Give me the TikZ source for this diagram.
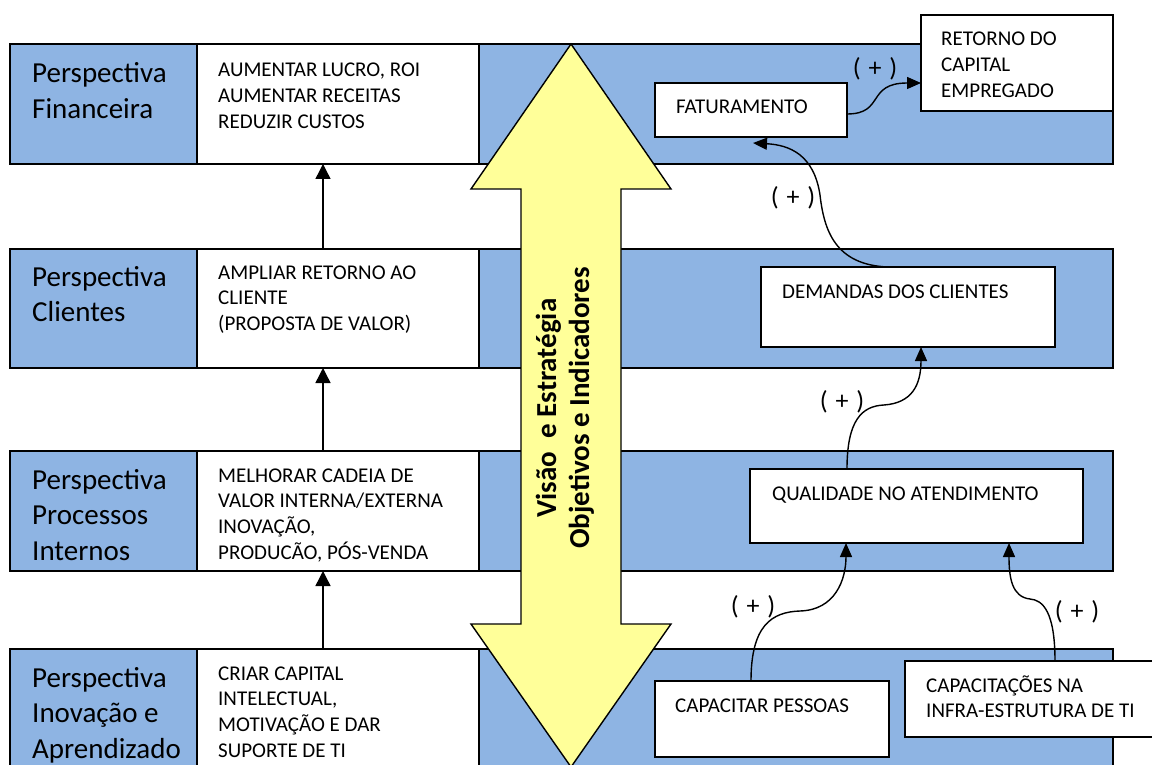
\documentclass[tikz,border=0pt]{standalone}
\usepackage{fontspec}
\setmainfont{Carlito}
\usetikzlibrary{arrows.meta}
\definecolor{bandblue}{HTML}{8EB4E3}
\definecolor{yel}{HTML}{FFFF99}
\newcommand\mkbox[6]{\node[#6, minimum width={(#3-#1)*1pt}, minimum height={(#4-#2)*1pt}] (#5) at ({(#1+#3)/2},{(#2+#4)/2}) {};}
\newcommand\mktext[5]{\node[#4, anchor=base west, inner sep=0pt] (#3) at (#1,#2) {\begin{tabular}[t]{@{}l@{}}#5\end{tabular}};}
\newcommand\plustext{(\hspace{0.3em}+\hspace{0.3em})}
\begin{document}
\begin{tikzpicture}[x=1pt,y=-1pt,
  bandbox/.style={draw=black, line width=1.8pt, fill=bandblue, inner sep=0pt, outer sep=0pt},
  whitebox/.style={draw=black, line width=1.8pt, fill=white, inner sep=0pt, outer sep=0pt},
  labeltext/.style={font=\fontsize{29}{35.5}\selectfont},
  boxtext/.style={font=\fontsize{21}{25.8}\selectfont},
  plus/.style={font=\fontsize{26}{30}\selectfont, inner sep=0pt},
  uparrow/.style={line width=1.4pt, -{Triangle[length=15pt,width=15pt]}},
  curvearrow/.style={line width=1.4pt, -{Triangle[length=14pt,width=12pt]}},
  yarrow/.style={draw=black, line width=1.4pt, fill=yel, line join=miter}
]
\useasboundingbox (0,0) rectangle (1152,765);
\clip (0,0) rectangle (1152,765);
% bands
\mkbox{10}{44}{1113}{164}{b1}{bandbox}
\mkbox{10}{249}{1113}{368}{b2}{bandbox}
\mkbox{10}{451}{1113}{571}{b3}{bandbox}
\mkbox{10}{649}{1113}{800}{b4}{bandbox}
% white boxes
\mkbox{197}{44}{479}{164}{w1}{whitebox}
\mkbox{197}{249}{479}{368}{w2}{whitebox}
\mkbox{197}{451}{479}{571}{w3}{whitebox}
\mkbox{197}{649}{479}{800}{w4}{whitebox}
% perspective labels
\mktext{32}{83}{l1}{labeltext}{Perspectiva\\Financeira}
\mktext{32}{286}{l2}{labeltext}{Perspectiva\\Clientes}
\mktext{32}{489}{l3}{labeltext}{Perspectiva\\Processos\\Internos}
\mktext{32}{687}{l4}{labeltext}{Perspectiva\\Inovação e\\Aprendizado}
% white box texts
\mktext{218}{77}{t1}{boxtext}{AUMENTAR LUCRO, ROI\\AUMENTAR RECEITAS\\REDUZIR CUSTOS}
\mktext{218}{279}{t2}{boxtext}{AMPLIAR RETORNO AO\\CLIENTE\\(PROPOSTA DE VALOR)}
\mktext{218}{482}{t3}{boxtext}{MELHORAR CADEIA DE\\VALOR INTERNA/EXTERNA\\INOVAÇÃO,\\PRODUCÃO, PÓS-VENDA}
\mktext{218}{680}{t4}{boxtext}{CRIAR CAPITAL\\INTELECTUAL,\\MOTIVAÇÃO E DAR\\SUPORTE DE TI}
% vertical arrows
\draw[uparrow] ([xshift=126pt]w2.north west) -- ([xshift=126pt]w1.south west);
\draw[uparrow] ([xshift=126pt]w3.north west) -- ([xshift=126pt]w2.south west);
\draw[uparrow] ([xshift=126pt]w4.north west) -- ([xshift=126pt]w3.south west);
% yellow double arrow
\draw[yarrow] (571,44) -- (671,189) -- (621,189) -- (621,624) -- (671,624) -- (571,767)
  -- (471,624) -- (521,624) -- (521,189) -- (471,189) -- cycle;
\node[rotate=90, anchor=base, inner sep=0pt, font=\fontsize{29}{33}\selectfont\bfseries] (vis) at (556,408)
  {\begin{tabular}[t]{@{}c@{}}Visão\ \ e Estratégia\\Objetivos e Indicadores\end{tabular}};
% right boxes
\mkbox{655}{83}{847}{137}{fat}{whitebox}
\mkbox{921}{15}{1113}{111}{ret}{whitebox}
\mkbox{761}{267}{1055}{347}{dem}{whitebox}
\mkbox{750}{469}{1083}{543}{qual}{whitebox}
\mkbox{655}{681}{889}{757}{cap}{whitebox}
\mkbox{905}{661}{1165}{737}{capti}{whitebox}
\mktext{676}{114}{tfat}{boxtext}{FATURAMENTO}
\mktext{941}{46}{tret}{boxtext}{RETORNO DO\\CAPITAL\\EMPREGADO}
\mktext{782}{298}{tdem}{boxtext}{DEMANDAS DOS CLIENTES}
\mktext{772}{500}{tqual}{boxtext}{QUALIDADE NO ATENDIMENTO}
\mktext{675}{712}{tcap}{boxtext}{CAPACITAR PESSOAS}
\mktext{926}{692}{tcapti}{boxtext}{CAPACITAÇÕES NA\\INFRA-ESTRUTURA DE TI}
% curved arrows
\draw[curvearrow] ([yshift=-4pt]fat.east) .. controls (885,114) and (866,83) .. ([yshift=-20pt]ret.west);
\draw[curvearrow] ([xshift=-20pt]dem.north) .. controls (835,265) and (824,230) .. (820,195)
  .. controls (814,155) and (790,145) .. ([xshift=2pt,yshift=-6pt]fat.south);
\draw[curvearrow] ([xshift=-69.5pt]qual.north) .. controls (847,420) and (862,406) .. (884,405)
  .. controls (912,403) and (921,385) .. ([xshift=13pt]dem.south);
\draw[curvearrow] ([xshift=-21pt]cap.north) .. controls (751,625) and (772,612) .. (800,611)
  .. controls (835,610) and (846,580) .. ([xshift=-70.5pt]qual.south);
\draw[curvearrow] ([xshift=20pt]capti.north) .. controls (1055,612) and (1043,600) .. (1030,599)
  .. controls (1012,597) and (1009,578) .. ([xshift=92.5pt]qual.south);
% (+) labels
\node[plus] (pl1) at (875,69) {\plustext};
\node[plus] (pl2) at (793,198) {\plustext};
\node[plus] (pl3) at (842,402) {\plustext};
\node[plus] (pl4) at (753,607) {\plustext};
\node[plus] (pl5) at (1077,612) {\plustext};
\end{tikzpicture}
\end{document}
